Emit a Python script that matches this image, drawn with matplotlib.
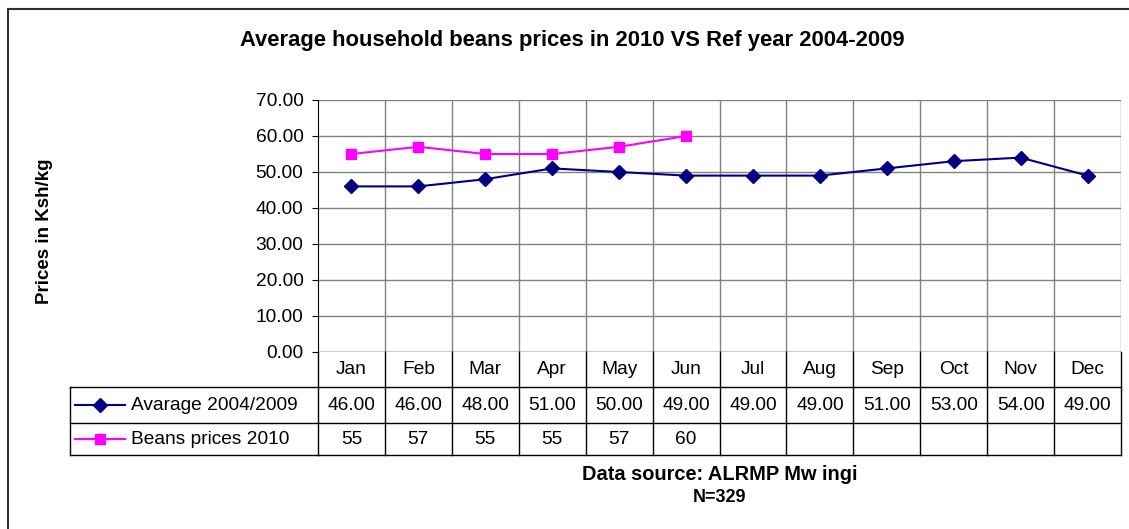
import matplotlib
matplotlib.use("Agg")
import matplotlib.pyplot as plt
from matplotlib.transforms import blended_transform_factory
from matplotlib.lines import Line2D

plt.rcParams['font.family'] = ['Liberation Sans', 'DejaVu Sans']

months = ["Jan", "Feb", "Mar", "Apr", "May", "Jun", "Jul", "Aug", "Sep", "Oct", "Nov", "Dec"]
avg_0409 = [46, 46, 48, 51, 50, 49, 49, 49, 51, 53, 54, 49]
beans_2010 = [55, 57, 55, 55, 57, 60]
avg_labels = ["46.00", "46.00", "48.00", "51.00", "50.00", "49.00", "49.00", "49.00", "51.00", "53.00", "54.00", "49.00"]
beans_labels = ["55", "57", "55", "55", "57", "60"]
yticks = [0, 10, 20, 30, 40, 50, 60, 70]

W, H = 1129, 529
fig = plt.figure(figsize=(W / 100, H / 100), dpi=100)

def fx(px):
    return px / W

def fy(py):
    return 1 - py / H

# outer frame (left and top visible)
fig.add_artist(Line2D([fx(8), fx(8)], [fy(9), fy(540)], color='#303030', lw=1.5))
fig.add_artist(Line2D([fx(8), fx(1140)], [fy(9), fy(9)], color='#303030', lw=1.5))

left, right, top, bottom = 318, 1121, 100, 352
ax = fig.add_axes([fx(left), fy(bottom), fx(right - left), (bottom - top) / H])
n = len(months)
ax.set_xlim(0, n)
ax.set_ylim(0, 70)
ax.set_yticks(yticks)
ax.set_yticklabels([f"{v:.2f}" for v in yticks], fontsize=13.8)
ax.set_xticks([])
for s in ['top', 'right', 'bottom']:
    ax.spines[s].set_visible(False)
ax.spines['left'].set_color('black')
ax.tick_params(axis='y', length=4.5, color='black', pad=6)

for v in yticks[1:]:
    ax.axhline(v, color='#808080', lw=1, zorder=1)
for i in range(1, n + 1):
    ax.axvline(i, color='#808080', lw=1, zorder=1)
ax.axhline(0, color='black', lw=1, zorder=2)

xs = [i + 0.5 for i in range(n)]
ax.plot(xs, avg_0409, color='#000080', lw=1.5, marker='D', markersize=7, zorder=3)
ax.plot(xs[:len(beans_2010)], beans_2010, color='#FF00FF', lw=1.5, marker='s', markersize=7, zorder=3)

fig.text(fx(45), fy(231), "Prices in Ksh/kg", rotation=90, ha='center', va='center',
         fontsize=13.5, fontweight='bold')

# data table
tr = blended_transform_factory(ax.transData, fig.transFigure)
rows = [352, 387, 423, 455]
lw_t = 1.0
for r in rows[1:]:
    ax.add_artist(Line2D([0, n], [fy(r), fy(r)], transform=tr, color='black', lw=lw_t, clip_on=False))
for r in rows[1:]:
    fig.add_artist(Line2D([fx(70), fx(left)], [fy(r), fy(r)], color='black', lw=lw_t))
fig.add_artist(Line2D([fx(70), fx(70)], [fy(387), fy(455)], color='black', lw=lw_t))
for i in range(0, n + 1):
    ax.add_artist(Line2D([i, i], [fy(352), fy(455)], transform=tr, color='black', lw=lw_t, clip_on=False))

fs = 13.8
for i, m in enumerate(months):
    ax.text(i + 0.5, fy((352 + 387) / 2), m, transform=tr, ha='center', va='center', fontsize=fs)
    ax.text(i + 0.5, fy((387 + 423) / 2), avg_labels[i], transform=tr, ha='center', va='center', fontsize=fs)
for i, lab in enumerate(beans_labels):
    ax.text(i + 0.5, fy((423 + 455) / 2), lab, transform=tr, ha='center', va='center', fontsize=fs)

# legend keys
for (ytop, ybot), col, mk, label in [((387, 423), '#000080', 'D', "Avarage 2004/2009"),
                                      ((423, 455), '#FF00FF', 's', "Beans prices 2010")]:
    yc = fy((ytop + ybot) / 2)
    fig.add_artist(Line2D([fx(75), fx(125)], [yc, yc], color=col, lw=1.5))
    fig.add_artist(Line2D([fx(100)], [yc], color=col, marker=mk, markersize=7, lw=0))
    fig.text(fx(131), yc, label, ha='left', va='center', fontsize=fs)

fig.text(fx(572), fy(40), "Average household beans prices in 2010 VS Ref year 2004-2009",
         ha='center', va='center', fontsize=15.8, fontweight='bold')
fig.text(fx(720), fy(474), "Data source: ALRMP Mw ingi", ha='center', va='center', fontsize=14.4, fontweight='bold')
fig.text(fx(720), fy(497), "N=329", ha='center', va='center', fontsize=13, fontweight='bold')

fig.savefig("out.png", dpi=100)
